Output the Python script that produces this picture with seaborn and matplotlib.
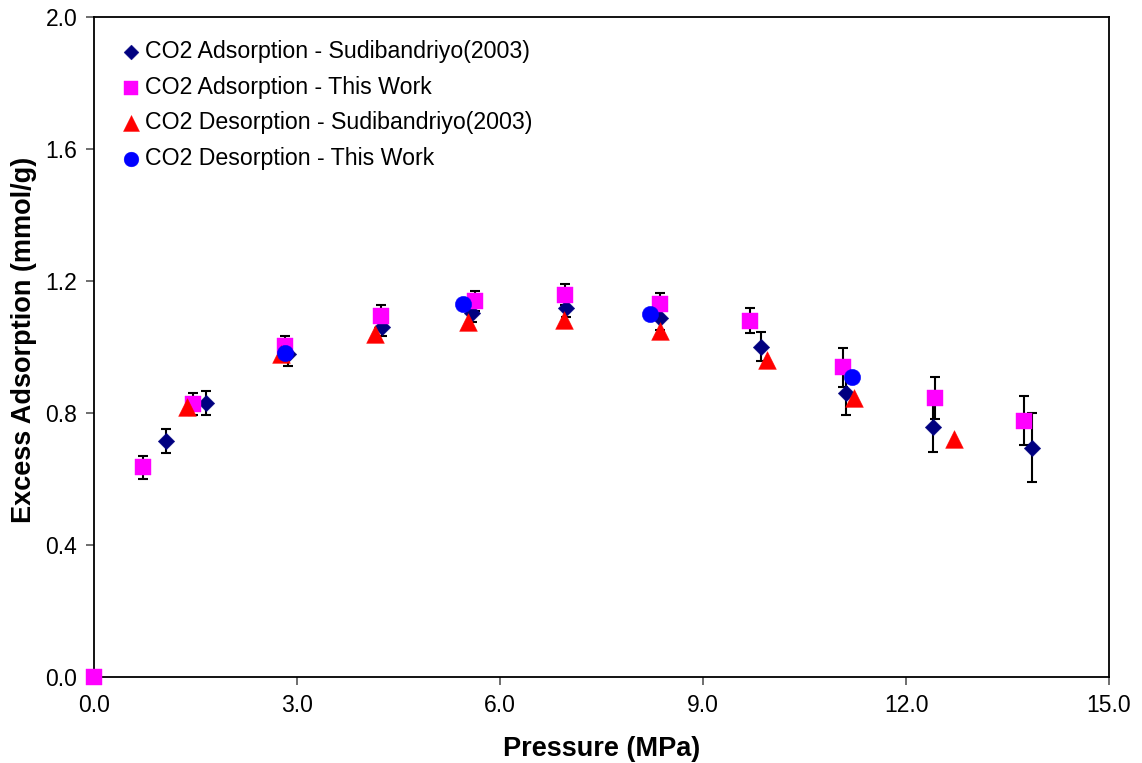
import numpy as np
import pandas as pd
import matplotlib
matplotlib.use("Agg")
import matplotlib.pyplot as plt
import seaborn as sns

# ---- data ----
ads_sud_p = [1.06, 1.66, 2.87, 4.25, 5.58, 6.97, 8.37, 9.85, 11.11, 12.40, 13.86]
ads_sud_q = [0.715, 0.831, 0.979, 1.062, 1.102, 1.117, 1.087, 1.001, 0.860, 0.758, 0.695]
ads_sud_err = [0.036, 0.037, 0.036, 0.030, 0.026, 0.027, 0.035, 0.043, 0.066, 0.076, 0.105]

ads_tw_p = [0.0, 0.72, 1.47, 2.83, 4.24, 5.63, 6.96, 8.36, 9.70, 11.07, 12.43, 13.74]
ads_tw_q = [0.0, 0.635, 0.827, 1.003, 1.094, 1.140, 1.158, 1.129, 1.080, 0.938, 0.845, 0.777]
ads_tw_err = [0.0, 0.034, 0.033, 0.030, 0.032, 0.031, 0.032, 0.035, 0.038, 0.060, 0.064, 0.075]

des_sud_p = [1.38, 2.77, 4.16, 5.53, 6.95, 8.36, 9.95, 11.23, 12.71]
des_sud_q = [0.817, 0.980, 1.039, 1.077, 1.082, 1.049, 0.960, 0.845, 0.720]

des_tw_p = [2.82, 5.46, 8.22, 11.20]
des_tw_q = [0.983, 1.131, 1.100, 0.908]

labels = ["CO2 Adsorption - Sudibandriyo(2003)",
          "CO2 Adsorption - This Work",
          "CO2 Desorption - Sudibandriyo(2003)",
          "CO2 Desorption - This Work"]

x_ticks = [0.0, 3.0, 6.0, 9.0, 12.0, 15.0]
y_ticks = [0.0, 0.4, 0.8, 1.2, 1.6, 2.0]

# ---- style ----
sns.set_theme(style="white")
plt.rcParams["font.family"] = ["Liberation Sans", "DejaVu Sans"]
plt.rcParams["text.color"] = "black"
plt.rcParams["axes.labelcolor"] = "black"
plt.rcParams["xtick.color"] = "black"
plt.rcParams["ytick.color"] = "black"

fig = plt.figure(figsize=(11.42, 7.63), dpi=100)
ax = fig.add_axes([94 / 1142, 1 - 677 / 763, (1109 - 94) / 1142, (677 - 17) / 763])

colors = ["#000080", "#FF00FF", "#FF0000", "#0000FF"]
markers = ["D", "s", "^", "o"]
sizes = [8.4 ** 2, 11.8 ** 2, 12.8 ** 2, 11.8 ** 2]

series = [(ads_sud_p, ads_sud_q), (ads_tw_p, ads_tw_q),
          (des_sud_p, des_sud_q), (des_tw_p, des_tw_q)]

# error bars
ax.errorbar(ads_sud_p, ads_sud_q, yerr=ads_sud_err, fmt="none", ecolor="black",
            elinewidth=1.5, capsize=3.5, capthick=1.5, zorder=2)
ax.errorbar(ads_tw_p[1:], ads_tw_q[1:], yerr=ads_tw_err[1:], fmt="none", ecolor="black",
            elinewidth=1.5, capsize=3.5, capthick=1.5, zorder=2)

for i, ((px, qy), lab) in enumerate(zip(series, labels)):
    df = pd.DataFrame({"p": px, "q": qy})
    sns.scatterplot(data=df, x="p", y="q", ax=ax, marker=markers[i], s=sizes[i],
                    color=colors[i], edgecolor=colors[i], linewidth=0.3,
                    label=lab, zorder=3 + i, clip_on=False)

ax.set_xlim(0, 15)
ax.set_ylim(0, 2.0)
ax.set_xticks(x_ticks)
ax.set_yticks(y_ticks)
ax.set_xticklabels([f"{v:.1f}" for v in x_ticks], fontsize=16.5)
ax.set_yticklabels([f"{v:.1f}" for v in y_ticks], fontsize=16.5)
ax.tick_params(axis="both", direction="out", length=6, width=1.2, color="#555555",
               labelcolor="black", bottom=True, left=True, pad=6)
for sp in ax.spines.values():
    sp.set_visible(True)
    sp.set_color("black")
    sp.set_linewidth(1.3)

ax.set_xlabel("Pressure (MPa)", fontsize=19.5, fontweight="bold", labelpad=14, color="black")
ax.set_ylabel("Excess Adsorption (mmol/g)", fontsize=19.5, fontweight="bold", color="black",
              va="center")
ax.yaxis.set_label_coords((24 - 94) / 1015, (677 - 340) / 660)

leg = ax.legend(loc="upper left", bbox_to_anchor=(0.007, 0.99), frameon=False,
                fontsize=16.7, markerscale=0.9, handletextpad=0.0,
                labelspacing=0.55, borderaxespad=0.3, handlelength=1.2)
for t in leg.get_texts():
    t.set_color("black")

fig.savefig("out.png", dpi=100)
